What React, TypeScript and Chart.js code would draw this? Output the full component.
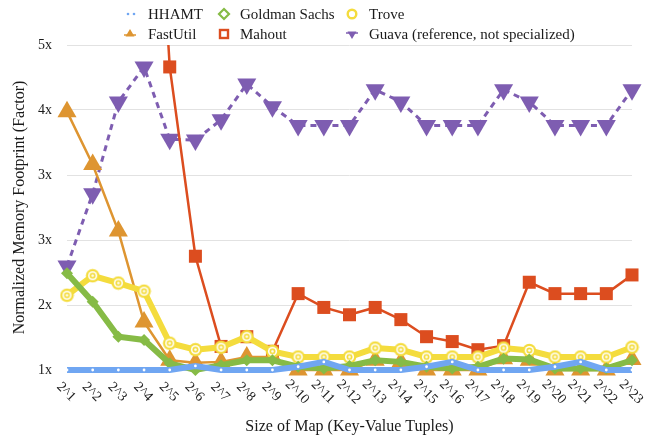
import React, { useEffect, useRef } from 'react';
import { Chart, registerables } from 'chart.js';

Chart.register(...registerables);

const FONT = "'Liberation Serif', 'Times New Roman', Times, serif";

const categories = [
  '2^1', '2^2', '2^3', '2^4', '2^5', '2^6', '2^7', '2^8', '2^9', '2^10', '2^11', '2^12',
  '2^13', '2^14', '2^15', '2^16', '2^17', '2^18', '2^19', '2^20', '2^21', '2^22', '2^23',
];

const hhamt = [1, 1, 1, 1, 1, 1.05, 1, 1, 1, 1.04, 1.1, 1, 1, 1, 1.04, 1.1, 1, 1, 1, 1.04, 1.1, 1, 1];
const goldman = [2.19, 1.84, 1.41, 1.37, 1.08, 1.0, 1.06, 1.12, 1.12, 1.04, 1.02, 1.05, 1.12, 1.1, 1.04, 1.02, 1.04, 1.14, 1.13, 1.02, 1.02, 1.02, 1.12];
const trove = [1.92, 2.16, 2.07, 1.97, 1.33, 1.25, 1.28, 1.41, 1.23, 1.16, 1.16, 1.16, 1.27, 1.25, 1.16, 1.16, 1.16, 1.27, 1.24, 1.16, 1.16, 1.16, 1.28];
const fastutil = [4.18, 3.53, 2.71, 1.59, 1.12, 1.09, 1.1, 1.16, 1.16, 1.0, 1.0, 1.0, 1.12, 1.1, 1.0, 1.0, 1.0, 1.14, 1.12, 1.0, 1.0, 1.0, 1.13];
const mahout = [null, null, null, 10, 4.73, 2.4, 1.29, 1.41, 1.23, 1.94, 1.77, 1.68, 1.77, 1.62, 1.41, 1.35, 1.25, 1.3, 2.08, 1.94, 1.94, 1.94, 2.17];
const guava = [2.28, 3.17, 4.3, 4.73, 3.84, 3.83, 4.08, 4.52, 4.24, 4.01, 4.01, 4.01, 4.45, 4.3, 4.01, 4.01, 4.01, 4.45, 4.3, 4.01, 4.01, 4.01, 4.45];

const yTickValues = [1, 1.8, 2.6, 3.4, 4.2, 5];
const yTickLabels = ['1x', '2x', '3x', '3x', '4x', '5x'];

const seriesNames = ['HHAMT', 'Goldman Sachs', 'Trove', 'FastUtil', 'Mahout', 'Guava (reference, not specialized)'];

const C_BLUE = '#70a6f2';
const C_GREEN = '#86bb46';
const C_YELLOW = '#f4dc3d';
const C_ORANGE = '#de9531';
const C_RED = '#dc4d1f';
const C_PURPLE = '#7e5db1';

function makeTrovePoint(): HTMLCanvasElement {
  const c = document.createElement('canvas');
  const s = 15;
  c.width = s;
  c.height = s;
  const g = c.getContext('2d')!;
  const m = s / 2;
  const dot = (r: number, col: string) => {
    g.beginPath();
    g.arc(m, m, r, 0, Math.PI * 2);
    g.fillStyle = col;
    g.fill();
  };
  dot(6.8, C_YELLOW);
  dot(4.6, '#ffffff');
  dot(3.0, C_YELLOW);
  dot(1.3, '#ffffff');
  return c;
}

const xLabelPlugin = {
  id: 'xLabelsRotated',
  afterDraw(chart: any) {
    const ctx = chart.ctx;
    const xs = chart.scales.x;
    const labels: string[] = chart.data.labels;
    ctx.save();
    ctx.font = `14px ${FONT}`;
    ctx.fillStyle = '#222';
    ctx.textAlign = 'center';
    ctx.textBaseline = 'middle';
    labels.forEach((lab, i) => {
      const x = xs.getPixelForValue(i);
      ctx.save();
      ctx.translate(x - 1, xs.top + 22);
      ctx.rotate(Math.PI / 4);
      ctx.fillText(lab, 0, 0);
      ctx.restore();
    });
    ctx.restore();
  },
};

const clipBox = { left: 20, right: 20, top: 0, bottom: 20 };

export default function App() {
  const ref = useRef<HTMLCanvasElement | null>(null);

  useEffect(() => {
    if (!ref.current) return;
    const trovePoint = makeTrovePoint();
    const chart = new Chart(ref.current, {
      type: 'line',
      data: {
        labels: categories,
        datasets: [
          {
            label: seriesNames[0],
            data: hhamt,
            borderColor: C_BLUE,
            backgroundColor: '#ffffff',
            borderWidth: 6,
            pointStyle: 'circle',
            pointRadius: 1.4,
            pointBorderWidth: 0,
            pointBackgroundColor: '#ffffff',
            order: 0,
            clip: clipBox,
          },
          {
            label: seriesNames[1],
            data: goldman,
            borderColor: C_GREEN,
            backgroundColor: C_GREEN,
            borderWidth: 6,
            pointStyle: 'rectRot',
            pointRadius: 6,
            pointBorderWidth: 0,
            pointBackgroundColor: C_GREEN,
            order: 1,
            clip: clipBox,
          },
          {
            label: seriesNames[2],
            data: trove,
            borderColor: C_YELLOW,
            backgroundColor: C_YELLOW,
            borderWidth: 6,
            pointStyle: trovePoint as any,
            pointRadius: 7,
            order: 2,
            clip: clipBox,
          },
          {
            label: seriesNames[3],
            data: fastutil,
            borderColor: C_ORANGE,
            backgroundColor: C_ORANGE,
            borderWidth: 2.5,
            pointStyle: 'triangle',
            pointRadius: 11,
            pointBorderWidth: 0,
            pointBackgroundColor: C_ORANGE,
            order: 3,
            clip: clipBox,
          },
          {
            label: seriesNames[4],
            data: mahout,
            borderColor: C_RED,
            backgroundColor: C_RED,
            borderWidth: 2.5,
            pointStyle: 'rect',
            pointRadius: 9.2,
            pointBorderWidth: 0,
            pointBackgroundColor: C_RED,
            order: 4,
            clip: clipBox,
          },
          {
            label: seriesNames[5],
            data: guava,
            borderColor: C_PURPLE,
            backgroundColor: C_PURPLE,
            borderWidth: 3,
            borderDash: [6, 5],
            pointStyle: 'triangle',
            rotation: 180,
            pointRotation: 180,
            pointRadius: 11,
            pointBorderWidth: 0,
            pointBackgroundColor: C_PURPLE,
            order: 5,
            clip: clipBox,
          } as any,
        ],
      },
      options: {
        animation: false,
        responsive: false,
        maintainAspectRatio: false,
        layout: { padding: { top: 45, right: 22, left: 0, bottom: 0 } },
        plugins: {
          legend: { display: false },
          tooltip: { enabled: false },
        },
        elements: { line: { tension: 0 } },
        scales: {
          x: {
            type: 'category',
            offset: false,
            grid: { display: false, drawTicks: false },
            border: { display: false },
            ticks: { display: false },
            title: {
              display: true,
              text: 'Size of Map (Key-Value Tuples)',
              color: '#1a1a1a',
              font: { family: FONT, size: 16 },
              padding: { top: 0, bottom: 1 },
            },
            afterFit: (scale: any) => {
              scale.height = 67;
            },
          },
          y: {
            min: 1,
            max: 5,
            grid: { color: '#e2e2e2', lineWidth: 1, drawTicks: false },
            border: { display: false },
            afterBuildTicks: (scale: any) => {
              scale.ticks = yTickValues.map((v) => ({ value: v }));
            },
            ticks: {
              color: '#1a1a1a',
              font: { family: FONT, size: 14 },
              padding: 15,
              callback: (_v: any, i: number) => yTickLabels[i],
            },
            title: {
              display: true,
              text: 'Normalized Memory Footprint (Factor)',
              color: '#1a1a1a',
              font: { family: FONT, size: 16 },
              padding: { top: 10, bottom: 0 },
            },
            afterFit: (scale: any) => {
              scale.width = 67;
            },
          },
        },
      } as any,
      plugins: [xLabelPlugin],
    });
    return () => chart.destroy();
  }, []);

  const legendItems = [
    { name: seriesNames[0], x: 131, y: 14, icon: 'dots', color: C_BLUE },
    { name: seriesNames[1], x: 224, y: 14, icon: 'diamond', color: C_GREEN },
    { name: seriesNames[2], x: 352, y: 14, icon: 'circle', color: C_YELLOW },
    { name: seriesNames[3], x: 130, y: 34, icon: 'triUp', color: C_ORANGE },
    { name: seriesNames[4], x: 224, y: 34, icon: 'square', color: C_RED },
    { name: seriesNames[5], x: 352, y: 34, icon: 'triDown', color: C_PURPLE },
  ];
  const textX = [148, 240, 369];

  const renderIcon = (icon: string, color: string) => {
    switch (icon) {
      case 'dots':
        return (
          <g>
            <circle cx={7} cy={10} r={1.3} fill={color} />
            <circle cx={13} cy={10} r={1.3} fill={color} />
          </g>
        );
      case 'diamond':
        return <polygon points="10,5 15,10 10,15 5,10" fill="#fff" stroke={color} strokeWidth={2.2} />;
      case 'circle':
        return <circle cx={10} cy={10} r={4.3} fill="#fff" stroke={color} strokeWidth={2.4} />;
      case 'triUp':
        return (
          <g>
            <line x1={4} y1={11} x2={16} y2={11} stroke={color} strokeWidth={1.5} />
            <polygon points="10,5 14.5,12.5 5.5,12.5" fill={color} />
          </g>
        );
      case 'square':
        return <rect x={6} y={6} width={8} height={8} fill="#fff" stroke={color} strokeWidth={2.4} />;
      case 'triDown':
        return (
          <g>
            <line x1={4} y1={9} x2={16} y2={9} stroke={color} strokeWidth={1.5} />
            <polygon points="5.5,7.5 14.5,7.5 10,15" fill={color} />
          </g>
        );
      default:
        return null;
    }
  };

  return (
    <div style={{ position: 'fixed', left: 0, top: 0, width: 654, height: 437, background: '#fff' }}>
      <canvas ref={ref} width={654} height={437} style={{ position: 'absolute', left: 0, top: 0, width: 654, height: 437 }} />
      {legendItems.map((it, idx) => (
        <React.Fragment key={it.name}>
          <svg
            width={20}
            height={20}
            style={{ position: 'absolute', left: it.x - 10, top: it.y - 10 }}
          >
            {renderIcon(it.icon, it.color)}
          </svg>
          <div
            style={{
              position: 'absolute',
              left: textX[idx % 3],
              top: it.y - 10,
              height: 20,
              lineHeight: '20px',
              fontFamily: FONT,
              fontSize: 15,
              color: '#1a1a1a',
              whiteSpace: 'nowrap',
            }}
          >
            {it.name}
          </div>
        </React.Fragment>
      ))}
    </div>
  );
}
